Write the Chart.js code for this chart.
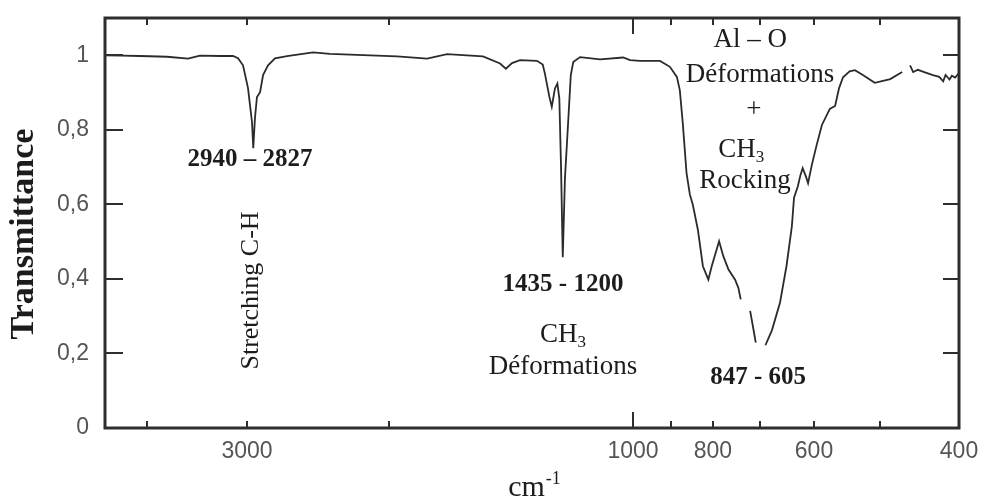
<!DOCTYPE html>
<html>
<head>
<meta charset="utf-8">
<script src="https://cdn.jsdelivr.net/npm/chart.js@4.4.0/dist/chart.umd.min.js"></script>
<style>
  html, body { margin: 0; padding: 0; background: #fff; }
  #wrap { width: 981px; height: 502px; }
</style>
</head>
<body>
<div id="wrap"><canvas id="ir"></canvas></div>
<script>
/*_____________________DATA____________________*/

// wavenumber (cm-1); null transmittance = gap in the trace
const wavenumber = [
  4000, 3800, 3583, 3400, 3295, 3235, 3135, 3070, 3045, 3020,
  2993, 2979, 2965, 2956, 2944, 2930, 2908, 2887, 2852, 2803,
  2718, 2535, 2416, 1967, 1844, 1762, 1615, 1545, 1521, 1496,
  1463, 1394, 1370, 1361, 1343, 1333, 1320, 1310, 1302, 1295,
  1288, 1279, 1265, 1255, 1245, 1217, 1135, 1041, 1012, 982,
  929, 903, 886, 879, 872, 863, 855, 848, 836, 824,
  811, 803, 787, 778, 767, 753, 746, 741, 731, 721,
  714, 709, 700, 690, 678, 663, 651, 641, 637, 630,
  625, 621, 615, 611, 604, 596, 588, 576, 568, 562,
  556, 546, 538, 526, 508, 487, 472, 467, 462, 458,
  452, 444, 433, 425, 420, 417, 412, 409, 405, 400
];
const transmittance = [
  1.000, 0.999, 0.998, 0.996, 0.991, 0.999, 0.998, 0.998, 0.992, 0.973,
  0.912, 0.866, 0.821, 0.751, 0.832, 0.888, 0.901, 0.947, 0.973, 0.992,
  0.998, 1.008, 1.004, 0.997, 0.991, 1.003, 0.997, 0.978, 0.964, 0.979,
  0.987, 0.985, 0.975, 0.950, 0.889, 0.862, 0.911, 0.924, 0.884, 0.698,
  0.458, 0.670, 0.831, 0.947, 0.982, 0.995, 0.989, 0.994, 0.987, 0.985,
  0.985, 0.969, 0.942, 0.906, 0.818, 0.684, 0.626, 0.599, 0.532, 0.434,
  0.398, 0.434, 0.501, 0.461, 0.425, 0.398, 0.376, 0.345, null, 0.314,
  0.265, 0.229, null, 0.222, 0.262, 0.336, 0.434, 0.541, 0.618, 0.648,
  0.679, 0.697, 0.675, 0.657, 0.706, 0.759, 0.813, 0.856, 0.864, 0.912,
  0.941, 0.957, 0.960, 0.947, 0.926, 0.936, 0.955, null, 0.973, 0.955,
  0.961, 0.955, 0.947, 0.942, 0.930, 0.947, 0.935, 0.945, 0.940, 0.952
];

const xTicks = [3500, 3000, 2000, 1000, 900, 800, 700, 600, 500, 400];
const xLabelled = [3000, 1000, 800, 600, 400];
const yTicks = [0, 0.2, 0.4, 0.6, 0.8, 1];

const yTitle = 'Transmittance';
const xTitle = 'cm';
const xTitleSup = '-1';

// band labels: text, wavenumber, transmittance
const bandLabels = [
  { text: '2940 \u2013 2827', w: 2979, t: 0.719, bold: true },
  { text: 'Stretching C-H', w: 2972, t: 0.369, rotate: true },
  { text: '1435 - 1200', w: 1287, t: 0.385, bold: true },
  { text: 'CH', sub: '3', w: 1287, t: 0.251 },
  { text: 'D\u00e9formations', w: 1287, t: 0.163 },
  { text: '847 - 605', w: 704, t: 0.136, bold: true },
  { text: 'Al \u2013 O', w: 721, t: 1.040 },
  { text: 'D\u00e9formations', w: 700, t: 0.947 },
  { text: '+', w: 713, t: 0.853 },
  { text: 'CH', sub: '3', w: 740, t: 0.746 },
  { text: 'Rocking', w: 732, t: 0.663 }
];

// the scanned axis is not linear: value -> fraction of axis width
const axisBreaks = [
  [4000, 0], [3500, 0.0492], [3000, 0.1663], [2000, 0.3326], [1000, 0.6183],
  [900, 0.6628], [800, 0.7119], [700, 0.7670], [600, 0.8302], [500, 0.9075], [400, 1]
];

/*_____________________SCALE____________________*/

function waveToFrac(v) {
  for (let i = 0; i < axisBreaks.length - 1; i++) {
    const [w0, f0] = axisBreaks[i], [w1, f1] = axisBreaks[i + 1];
    if (v <= w0 && v >= w1) return f0 + (w0 - v) / (w0 - w1) * (f1 - f0);
  }
  return v > 4000 ? 0 : 1;
}
function fracToWave(f) {
  for (let i = 0; i < axisBreaks.length - 1; i++) {
    const [w0, f0] = axisBreaks[i], [w1, f1] = axisBreaks[i + 1];
    if (f >= f0 && f <= f1) return w0 - (f - f0) / (f1 - f0) * (w0 - w1);
  }
  return f < 0 ? 4000 : 400;
}

class WavenumberScale extends Chart.LinearScale {
  static id = 'wavenumber';
  static defaults = {};
  buildTicks() {
    this.start = this.min;
    this.end = this.max;
    return xTicks.map(v => ({ value: v }));
  }
  getPixelForValue(value) {
    if (value === null || value === undefined) return NaN;
    return this.getPixelForDecimal(waveToFrac(value));
  }
  getValueForPixel(pixel) {
    return fracToWave(this.getDecimalForPixel(pixel));
  }
}
Chart.register(WavenumberScale);

/*_____________________DECOR____________________*/

const serif = '"Liberation Serif", "Times New Roman", serif';
const ink = '#1c1c1c';

const framePlugin = {
  id: 'frame',
  afterDraw(chart) {
    const ctx = chart.ctx;
    const a = chart.chartArea;
    const xs = chart.scales.x, ys = chart.scales.y;
    ctx.save();

    // box + inward ticks
    ctx.strokeStyle = '#2e2e2e';
    ctx.lineWidth = 3;
    ctx.strokeRect(a.left, a.top, a.right - a.left, a.bottom - a.top);
    ctx.lineWidth = 2;
    ctx.beginPath();
    xTicks.forEach(v => {
      const px = Math.round(xs.getPixelForValue(v));
      const len = v === 1000 ? 16 : 7;
      ctx.moveTo(px, a.bottom); ctx.lineTo(px, a.bottom - len);
      ctx.moveTo(px, a.top); ctx.lineTo(px, a.top + len);
    });
    yTicks.forEach(v => {
      if (v === 0) return;
      const py = Math.round(ys.getPixelForValue(v));
      ctx.moveTo(a.left, py); ctx.lineTo(a.left + 18, py);
      ctx.moveTo(a.right, py); ctx.lineTo(a.right - 16, py);
    });
    ctx.stroke();

    // axis titles
    ctx.fillStyle = ink;
    ctx.save();
    ctx.translate(24, 234);
    ctx.rotate(-Math.PI / 2);
    ctx.font = 'bold 34px ' + serif;
    ctx.textAlign = 'center';
    ctx.textBaseline = 'middle';
    ctx.fillText(yTitle, 0, 0);
    ctx.restore();

    ctx.textAlign = 'left';
    ctx.textBaseline = 'alphabetic';
    ctx.font = '30px ' + serif;
    const cw = ctx.measureText(xTitle).width;
    ctx.font = '18px ' + serif;
    const sw = ctx.measureText(xTitleSup).width;
    const x0 = 534 - (cw + sw) / 2;
    ctx.font = '30px ' + serif;
    ctx.fillText(xTitle, x0, 496);
    ctx.font = '18px ' + serif;
    ctx.fillText(xTitleSup, x0 + cw + 1, 484);

    // band labels
    bandLabels.forEach(b => {
      const px = xs.getPixelForValue(b.w);
      const py = ys.getPixelForValue(b.t);
      const font = (b.bold ? 'bold 25px ' : '27px ') + serif;
      ctx.font = font;
      ctx.textBaseline = 'middle';
      if (b.rotate) {
        ctx.save();
        ctx.translate(px, py);
        ctx.rotate(-Math.PI / 2);
        ctx.textAlign = 'center';
        ctx.font = '26px ' + serif;
        ctx.fillText(b.text, 0, 0);
        ctx.restore();
      } else if (b.sub) {
        const w1 = ctx.measureText(b.text).width;
        ctx.font = '17px ' + serif;
        const w2 = ctx.measureText(b.sub).width;
        const left = px - (w1 + w2) / 2;
        ctx.textAlign = 'left';
        ctx.font = font;
        ctx.fillText(b.text, left, py);
        ctx.font = '17px ' + serif;
        ctx.fillText(b.sub, left + w1, py + 8);
      } else {
        ctx.textAlign = 'center';
        ctx.fillText(b.text, px, py);
      }
    });
    ctx.restore();
  }
};

/*_____________________SPECTRUM____________________*/

const ir = document.getElementById('ir');
const ir_setup = {
  datasets: [
    {
      label: 'Transmittance',
      data: wavenumber.map((w, i) => ({ x: w, y: transmittance[i] })),
      borderColor: '#2b2b2b',
      borderWidth: 1.8,
      pointRadius: 0,
      tension: 0,
      spanGaps: false,
      fill: false
    }
  ]
};

new Chart(ir, {
  type: 'line',
  data: ir_setup,
  plugins: [framePlugin],
  options: {
    responsive: true,
    maintainAspectRatio: false,
    animation: false,
    events: [],
    layout: { padding: { top: 18, right: 22, left: 0, bottom: 0 } },
    plugins: { legend: { display: false }, tooltip: { enabled: false } },
    scales: {
      x: {
        type: 'wavenumber',
        min: 400,
        max: 4000,
        grid: { display: false, drawTicks: false },
        border: { display: false },
        ticks: {
          autoSkip: false,
          maxRotation: 0,
          padding: 10,
          color: '#555',
          font: { family: '"Liberation Sans", Arial, sans-serif', size: 23 },
          callback: v => xLabelled.includes(v) ? String(v) : ''
        },
        afterFit: s => { s.height = 74; s.paddingLeft = 0; s.paddingRight = 0; }
      },
      y: {
        min: 0,
        max: 1.1,
        grid: { display: false, drawTicks: false },
        border: { display: false },
        afterBuildTicks: s => { s.ticks = yTicks.map(v => ({ value: v })); },
        ticks: {
          padding: 16,
          color: '#555',
          font: { family: '"Liberation Sans", Arial, sans-serif', size: 23 },
          callback: v => String(+v.toFixed(1)).replace('.', ',')
        },
        afterFit: s => { s.width = 105; s.paddingTop = 0; s.paddingBottom = 0; }
      }
    }
  }
});
</script>
</body>
</html>
